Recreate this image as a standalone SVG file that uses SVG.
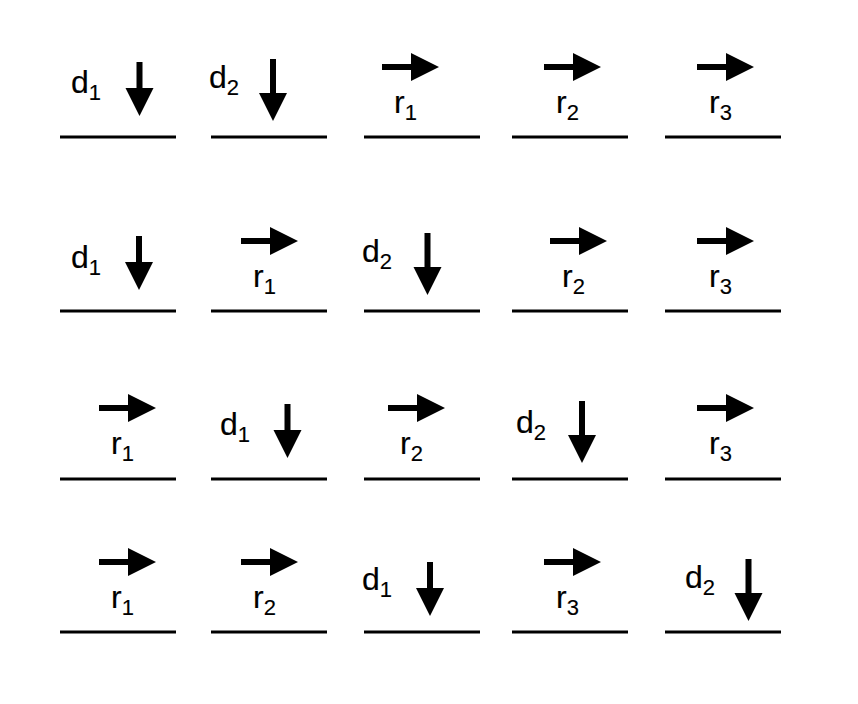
<svg xmlns="http://www.w3.org/2000/svg" xmlns:xlink="http://www.w3.org/1999/xlink" width="858" height="704" viewBox="0 0 858 704">
<style>
.bg{fill:#ffffff}
.base{stroke:#000;stroke-width:3;fill:none}
.arr{fill:#000}
.lbl{font-family:"Liberation Sans",Arial,Helvetica,sans-serif;font-size:32px;fill:#000;stroke:#000;stroke-width:0.15}
.sub{font-size:22px}
</style>
<defs>
<path id="ra" class="arr" d="M0,-3 H29 V-14 L57,0 L29,14 V3 H0 Z"/>
<path id="da1" class="arr" d="M-3,0 H3 V26 H14 L0,54 L-14,26 H-3 Z"/>
<path id="da2" class="arr" d="M-3,0 H3 V34 H14 L0,62 L-14,34 H-3 Z"/>
</defs>
<rect class="bg" x="0" y="0" width="858" height="704"/>

<g id="r1c1"><line class="base" x1="60" y1="137" x2="176" y2="137"/><use href="#da1" x="139.5" y="62"/><text class="lbl" x="71" y="93">d<tspan class="sub" dy="7">1</tspan></text></g>
<g id="r1c2"><line class="base" x1="211" y1="137" x2="327" y2="137"/><use href="#da2" x="273" y="59"/><text class="lbl" x="209" y="88">d<tspan class="sub" dy="7">2</tspan></text></g>
<g id="r1c3"><line class="base" x1="364" y1="137" x2="480" y2="137"/><use href="#ra" x="382" y="67"/><text class="lbl" x="394" y="113">r<tspan class="sub" dy="7">1</tspan></text></g>
<g id="r1c4"><line class="base" x1="512" y1="137" x2="628" y2="137"/><use href="#ra" x="544" y="67"/><text class="lbl" x="556" y="113">r<tspan class="sub" dy="7">2</tspan></text></g>
<g id="r1c5"><line class="base" x1="665" y1="137" x2="781" y2="137"/><use href="#ra" x="697" y="67"/><text class="lbl" x="709" y="113">r<tspan class="sub" dy="7">3</tspan></text></g>

<g id="r2c1"><line class="base" x1="60" y1="311" x2="176" y2="311"/><use href="#da1" x="139" y="236"/><text class="lbl" x="71" y="268">d<tspan class="sub" dy="7">1</tspan></text></g>
<g id="r2c2"><line class="base" x1="211" y1="311" x2="327" y2="311"/><use href="#ra" x="241" y="241"/><text class="lbl" x="253" y="287">r<tspan class="sub" dy="7">1</tspan></text></g>
<g id="r2c3"><line class="base" x1="364" y1="311" x2="480" y2="311"/><use href="#da2" x="427.5" y="233"/><text class="lbl" x="362" y="262">d<tspan class="sub" dy="7">2</tspan></text></g>
<g id="r2c4"><line class="base" x1="512" y1="311" x2="628" y2="311"/><use href="#ra" x="550" y="241"/><text class="lbl" x="562" y="287">r<tspan class="sub" dy="7">2</tspan></text></g>
<g id="r2c5"><line class="base" x1="665" y1="311" x2="781" y2="311"/><use href="#ra" x="697" y="241"/><text class="lbl" x="709" y="287">r<tspan class="sub" dy="7">3</tspan></text></g>

<g id="r3c1"><line class="base" x1="60" y1="479" x2="176" y2="479"/><use href="#ra" x="99" y="408"/><text class="lbl" x="111" y="454">r<tspan class="sub" dy="7">1</tspan></text></g>
<g id="r3c2"><line class="base" x1="211" y1="479" x2="327" y2="479"/><use href="#da1" x="287.5" y="404"/><text class="lbl" x="220" y="435">d<tspan class="sub" dy="7">1</tspan></text></g>
<g id="r3c3"><line class="base" x1="364" y1="479" x2="480" y2="479"/><use href="#ra" x="388" y="408"/><text class="lbl" x="400" y="454">r<tspan class="sub" dy="7">2</tspan></text></g>
<g id="r3c4"><line class="base" x1="512" y1="479" x2="628" y2="479"/><use href="#da2" x="582" y="401"/><text class="lbl" x="516" y="433">d<tspan class="sub" dy="7">2</tspan></text></g>
<g id="r3c5"><line class="base" x1="665" y1="479" x2="781" y2="479"/><use href="#ra" x="697" y="408"/><text class="lbl" x="709" y="454">r<tspan class="sub" dy="7">3</tspan></text></g>

<g id="r4c1"><line class="base" x1="60" y1="632" x2="176" y2="632"/><use href="#ra" x="99" y="562"/><text class="lbl" x="111" y="608">r<tspan class="sub" dy="7">1</tspan></text></g>
<g id="r4c2"><line class="base" x1="211" y1="632" x2="327" y2="632"/><use href="#ra" x="241" y="562"/><text class="lbl" x="253" y="608">r<tspan class="sub" dy="7">2</tspan></text></g>
<g id="r4c3"><line class="base" x1="364" y1="632" x2="480" y2="632"/><use href="#da1" x="430" y="562"/><text class="lbl" x="362" y="590">d<tspan class="sub" dy="7">1</tspan></text></g>
<g id="r4c4"><line class="base" x1="512" y1="632" x2="628" y2="632"/><use href="#ra" x="544" y="562"/><text class="lbl" x="556" y="608">r<tspan class="sub" dy="7">3</tspan></text></g>
<g id="r4c5"><line class="base" x1="665" y1="632" x2="781" y2="632"/><use href="#da2" x="748.5" y="559"/><text class="lbl" x="685" y="588">d<tspan class="sub" dy="7">2</tspan></text></g>
</svg>
